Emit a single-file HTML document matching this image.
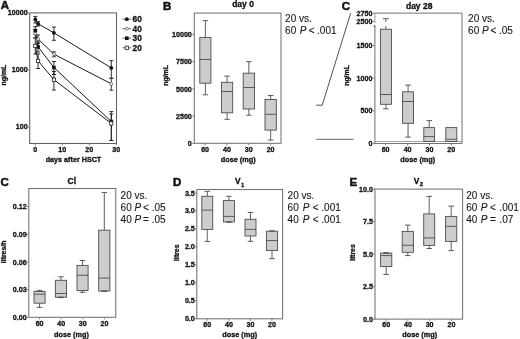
<!DOCTYPE html>
<html><head><meta charset="utf-8"><title>Figure</title>
<style>
html,body{margin:0;padding:0;background:#fff;}
body{width:520px;height:339px;overflow:hidden;}
svg{display:block;font-family:"Liberation Sans",sans-serif;}
</style></head><body>
<svg width="520" height="339" viewBox="0 0 520 339">
<rect width="520" height="339" fill="#fff"/>
<text x="0.8" y="9.2" font-size="11.5" text-anchor="start" font-weight="bold" fill="#111" stroke="#111" stroke-width="0.5" >A</text>
<rect x="29.7" y="12.9" width="86.8" height="130.6" fill="none" stroke="#606060" stroke-width="1.05"/>
<path d="M27.7 12.9H29.7" stroke="#727272" stroke-width="0.9"/>
<text x="27.6" y="14.8" font-size="7.1" text-anchor="end" font-weight="bold" fill="#111" stroke="#111" stroke-width="0.3" >10000</text>
<path d="M27.7 69.9H29.7" stroke="#727272" stroke-width="0.9"/>
<text x="27.6" y="71.80000000000001" font-size="7.1" text-anchor="end" font-weight="bold" fill="#111" stroke="#111" stroke-width="0.3" >1000</text>
<path d="M27.7 126.9H29.7" stroke="#727272" stroke-width="0.9"/>
<text x="27.6" y="128.8" font-size="7.1" text-anchor="end" font-weight="bold" fill="#111" stroke="#111" stroke-width="0.3" >100</text>
<path d="M35.3 143.4V145.4" stroke="#727272" stroke-width="0.9"/>
<text x="35.3" y="152.0" font-size="7.1" text-anchor="middle" font-weight="bold" fill="#111" stroke="#111" stroke-width="0.3" >0</text>
<path d="M62.3 143.4V145.4" stroke="#727272" stroke-width="0.9"/>
<text x="62.3" y="152.0" font-size="7.1" text-anchor="middle" font-weight="bold" fill="#111" stroke="#111" stroke-width="0.3" >10</text>
<path d="M89.3 143.4V145.4" stroke="#727272" stroke-width="0.9"/>
<text x="89.3" y="152.0" font-size="7.1" text-anchor="middle" font-weight="bold" fill="#111" stroke="#111" stroke-width="0.3" >20</text>
<path d="M116.3 143.4V145.4" stroke="#727272" stroke-width="0.9"/>
<text x="116.3" y="152.0" font-size="7.1" text-anchor="middle" font-weight="bold" fill="#111" stroke="#111" stroke-width="0.3" >30</text>
<text x="73.5" y="162.3" font-size="7.2" text-anchor="middle" font-weight="bold" fill="#111" stroke="#111" stroke-width="0.3" >days after HSCT</text>
<text transform="translate(6.2 75.1) rotate(-90)" font-size="6.9" text-anchor="middle" font-weight="bold" fill="#111" stroke="#111" stroke-width="0.3">ng/mL</text>
<polyline points="35.3,19.4 38.1,23.8 53.9,32.8 111.3,67.9" fill="none" stroke="#1a1a1a" stroke-width="1"/>
<path d="M35.3 16.4V23.0M33.3 16.4H37.3M33.3 23.0H37.3" stroke="#222" stroke-width="0.95" fill="none"/>
<path d="M38.1 21.7V26M36.1 21.7H40.1M36.1 26H40.1" stroke="#222" stroke-width="0.95" fill="none"/>
<path d="M53.9 27.1V40.3M51.9 27.1H55.9M51.9 40.3H55.9" stroke="#222" stroke-width="0.95" fill="none"/>
<path d="M111.3 60.6V78.3M109.3 60.6H113.3M109.3 78.3H113.3" stroke="#222" stroke-width="0.95" fill="none"/>
<polyline points="35.3,33.6 38.1,39 53.9,54.2 111.3,83.8" fill="none" stroke="#1a1a1a" stroke-width="1"/>
<path d="M35.3 29.5V38M33.3 29.5H37.3M33.3 38H37.3" stroke="#333" stroke-width="0.95" fill="none"/>
<path d="M38.1 35V43.5M36.1 35H40.1M36.1 43.5H40.1" stroke="#333" stroke-width="0.95" fill="none"/>
<path d="M53.9 51.8V56.8M51.9 51.8H55.9M51.9 56.8H55.9" stroke="#333" stroke-width="0.95" fill="none"/>
<path d="M111.3 78.3V90.2M109.3 78.3H113.3M109.3 90.2H113.3" stroke="#333" stroke-width="0.95" fill="none"/>
<polyline points="35.3,30.6 38.1,46.9 53.9,67.5 111.3,121.5" fill="none" stroke="#1a1a1a" stroke-width="1"/>
<path d="M35.3 26.6V34.5M33.3 26.6H37.3M33.3 34.5H37.3" stroke="#222" stroke-width="0.95" fill="none"/>
<path d="M38.1 42V52M36.1 42H40.1M36.1 52H40.1" stroke="#222" stroke-width="0.95" fill="none"/>
<path d="M53.9 61.5V74.5M51.9 61.5H55.9M51.9 74.5H55.9" stroke="#222" stroke-width="0.95" fill="none"/>
<path d="M111.3 111.6V140.5M109.3 111.6H113.3M109.3 140.5H113.3" stroke="#222" stroke-width="0.95" fill="none"/>
<polyline points="35.3,45.9 38.1,60.9 53.9,79.7 111.3,123.4" fill="none" stroke="#1a1a1a" stroke-width="1"/>
<path d="M35.3 38V54M33.3 38H37.3M33.3 54H37.3" stroke="#222" stroke-width="0.95" fill="none"/>
<path d="M38.1 54V68.5M36.1 54H40.1M36.1 68.5H40.1" stroke="#222" stroke-width="0.95" fill="none"/>
<path d="M53.9 71.5V90M51.9 71.5H55.9M51.9 90H55.9" stroke="#222" stroke-width="0.95" fill="none"/>
<path d="M111.3 114.0V140.5M109.3 114.0H113.3M109.3 140.5H113.3" stroke="#222" stroke-width="0.95" fill="none"/>
<circle cx="35.3" cy="19.4" r="1.9" fill="#111"/>
<circle cx="38.1" cy="23.8" r="1.9" fill="#111"/>
<circle cx="53.9" cy="32.8" r="1.9" fill="#111"/>
<circle cx="111.3" cy="67.9" r="1.9" fill="#111"/>
<circle cx="35.3" cy="33.6" r="1.5" fill="#eee" stroke="#555" stroke-width="0.7"/>
<circle cx="38.1" cy="39" r="1.5" fill="#eee" stroke="#555" stroke-width="0.7"/>
<circle cx="53.9" cy="54.2" r="1.5" fill="#eee" stroke="#555" stroke-width="0.7"/>
<circle cx="111.3" cy="83.8" r="1.5" fill="#eee" stroke="#555" stroke-width="0.7"/>
<rect x="33.5" y="28.8" width="3.6" height="3.6" fill="#111"/>
<rect x="36.300000000000004" y="45.1" width="3.6" height="3.6" fill="#111"/>
<rect x="52.1" y="65.7" width="3.6" height="3.6" fill="#111"/>
<rect x="109.5" y="119.7" width="3.6" height="3.6" fill="#111"/>
<rect x="33.699999999999996" y="44.199999999999996" width="3.2" height="3.4" fill="#fff" stroke="#222" stroke-width="0.8"/>
<rect x="36.5" y="59.199999999999996" width="3.2" height="3.4" fill="#fff" stroke="#222" stroke-width="0.8"/>
<rect x="52.3" y="78.0" width="3.2" height="3.4" fill="#fff" stroke="#222" stroke-width="0.8"/>
<rect x="109.7" y="121.7" width="3.2" height="3.4" fill="#fff" stroke="#222" stroke-width="0.8"/>
<path d="M122.5 19.2H131" stroke="#444" stroke-width="0.8"/>
<circle cx="126.8" cy="19.2" r="1.9" fill="#111"/>
<text x="132.6" y="22.2" font-size="8.3" text-anchor="start" font-weight="bold" fill="#111" stroke="#111" stroke-width="0.3" >60</text>
<path d="M122.5 28.7H131" stroke="#444" stroke-width="0.8"/>
<circle cx="126.8" cy="28.7" r="1.5" fill="#eee" stroke="#555" stroke-width="0.7"/>
<text x="132.6" y="31.7" font-size="8.3" text-anchor="start" font-weight="bold" fill="#111" stroke="#111" stroke-width="0.3" >40</text>
<path d="M122.5 38.2H131" stroke="#444" stroke-width="0.8"/>
<rect x="125.0" y="36.400000000000006" width="3.6" height="3.6" fill="#111"/>
<text x="132.6" y="41.2" font-size="8.3" text-anchor="start" font-weight="bold" fill="#111" stroke="#111" stroke-width="0.3" >30</text>
<path d="M122.5 47.8H131" stroke="#444" stroke-width="0.8"/>
<rect x="125.2" y="46.099999999999994" width="3.2" height="3.4" fill="#fff" stroke="#222" stroke-width="0.8"/>
<text x="132.6" y="50.8" font-size="8.3" text-anchor="start" font-weight="bold" fill="#111" stroke="#111" stroke-width="0.3" >20</text>
<text x="163.0" y="9.5" font-size="11.5" text-anchor="start" font-weight="bold" fill="#111" stroke="#111" stroke-width="0.5" >B</text>
<text x="243" y="6.9" font-size="8.5" text-anchor="middle" font-weight="bold" fill="#111" stroke="#111" stroke-width="0.3" >day 0</text>
<rect x="194.3" y="13.1" width="86.69999999999999" height="130.20000000000002" fill="none" stroke="#727272" stroke-width="1.05"/>
<path d="M192.3 34.6H194.3" stroke="#727272" stroke-width="0.9"/>
<text x="191.8" y="37.2" font-size="7.1" text-anchor="end" font-weight="bold" fill="#111" stroke="#111" stroke-width="0.3" >10000</text>
<path d="M192.3 61.8H194.3" stroke="#727272" stroke-width="0.9"/>
<text x="191.8" y="64.39999999999999" font-size="7.1" text-anchor="end" font-weight="bold" fill="#111" stroke="#111" stroke-width="0.3" >7500</text>
<path d="M192.3 89H194.3" stroke="#727272" stroke-width="0.9"/>
<text x="191.8" y="91.6" font-size="7.1" text-anchor="end" font-weight="bold" fill="#111" stroke="#111" stroke-width="0.3" >5000</text>
<path d="M192.3 116.2H194.3" stroke="#727272" stroke-width="0.9"/>
<text x="191.8" y="118.8" font-size="7.1" text-anchor="end" font-weight="bold" fill="#111" stroke="#111" stroke-width="0.3" >2500</text>
<path d="M192.3 143.4H194.3" stroke="#727272" stroke-width="0.9"/>
<text x="191.8" y="146.0" font-size="7.1" text-anchor="end" font-weight="bold" fill="#111" stroke="#111" stroke-width="0.3" >0</text>
<path d="M205.1 143.4V145.4" stroke="#727272" stroke-width="0.9"/>
<text x="205.1" y="152.0" font-size="7.1" text-anchor="middle" font-weight="bold" fill="#111" stroke="#111" stroke-width="0.3" >60</text>
<path d="M226.9 143.4V145.4" stroke="#727272" stroke-width="0.9"/>
<text x="226.9" y="152.0" font-size="7.1" text-anchor="middle" font-weight="bold" fill="#111" stroke="#111" stroke-width="0.3" >40</text>
<path d="M248.7 143.4V145.4" stroke="#727272" stroke-width="0.9"/>
<text x="248.7" y="152.0" font-size="7.1" text-anchor="middle" font-weight="bold" fill="#111" stroke="#111" stroke-width="0.3" >30</text>
<path d="M270.6 143.4V145.4" stroke="#727272" stroke-width="0.9"/>
<text x="270.6" y="152.0" font-size="7.1" text-anchor="middle" font-weight="bold" fill="#111" stroke="#111" stroke-width="0.3" >20</text>
<text x="238.2" y="162.3" font-size="7.3" text-anchor="middle" font-weight="bold" fill="#111" stroke="#111" stroke-width="0.3" >dose (mg)</text>
<text transform="translate(167.8 75.4) rotate(-90)" font-size="6.9" text-anchor="middle" font-weight="bold" fill="#111" stroke="#111" stroke-width="0.3">ng/mL</text>
<g stroke="#4c4c4c" stroke-width="0.9" fill="none">
<path d="M205.35000000000002 37.4V20.6M202.55 20.6H208.15000000000003"/>
<path d="M205.35000000000002 83.2V94.8M202.55 94.8H208.15000000000003"/>
<rect x="199.8" y="37.4" width="11.099999999999994" height="45.800000000000004" fill="#cdcdcd"/>
<path d="M199.8 59.5H210.9"/>
</g>
<g stroke="#4c4c4c" stroke-width="0.9" fill="none">
<path d="M227.1 82.3V76.1M224.29999999999998 76.1H229.9"/>
<path d="M227.1 112.8V119.3M224.29999999999998 119.3H229.9"/>
<rect x="221.5" y="82.3" width="11.199999999999989" height="30.5" fill="#cdcdcd"/>
<path d="M221.5 91.5H232.7"/>
</g>
<g stroke="#4c4c4c" stroke-width="0.9" fill="none">
<path d="M248.85 73.2V61.7M246.04999999999998 61.7H251.65"/>
<path d="M248.85 109.0V115.2M246.04999999999998 115.2H251.65"/>
<rect x="243.2" y="73.2" width="11.300000000000011" height="35.8" fill="#cdcdcd"/>
<path d="M243.2 87.5H254.5"/>
</g>
<g stroke="#4c4c4c" stroke-width="0.9" fill="none">
<path d="M270.65 99.5V95.5M267.84999999999997 95.5H273.45"/>
<path d="M270.65 130.1V140.1M267.84999999999997 140.1H273.45"/>
<rect x="265" y="99.5" width="11.300000000000011" height="30.599999999999994" fill="#cdcdcd"/>
<path d="M265 114.3H276.3"/>
</g>
<text x="285.1" y="21.6" font-size="10" fill="#1a1a1a" stroke="#1a1a1a" stroke-width="0.12">20 vs.</text>
<text x="285.1" y="33.6" font-size="10" fill="#1a1a1a" stroke="#1a1a1a" stroke-width="0.12">60 <tspan font-style="italic" dx="0.7">P</tspan><tspan dx="-0.3"> &lt;</tspan><tspan dx="-0.4"> .001</tspan></text>
<path d="M316.2 105.2H322.2L350.7 13.2" fill="none" stroke="#333" stroke-width="0.85"/>
<path d="M316.2 139.3H353.5" fill="none" stroke="#444" stroke-width="0.85"/>
<text x="341.7" y="9.7" font-size="11.5" text-anchor="start" font-weight="bold" fill="#111" stroke="#111" stroke-width="0.5" >C</text>
<text x="419.2" y="8.6" font-size="8.5" text-anchor="middle" font-weight="bold" fill="#111" stroke="#111" stroke-width="0.3" >day 28</text>
<path d="M374.9 13.1H462V143.5H374.9V26" fill="none" stroke="#727272" stroke-width="1"/>
<path d="M374.9 14.2V22.6" fill="none" stroke="#555" stroke-width="1" stroke-dasharray="0.9 0.7"/>
<path d="M373.6 26H375.4" fill="none" stroke="#333" stroke-width="1"/>
<path d="M374.9 141.5H462" fill="none" stroke="#888" stroke-width="0.8"/>
<path d="M372.9 13.1H374.9" stroke="#727272" stroke-width="0.9"/>
<text x="372.4" y="15.7" font-size="7.1" text-anchor="end" font-weight="bold" fill="#111" stroke="#111" stroke-width="0.3" >2750</text>
<path d="M372.9 21.6H374.9" stroke="#727272" stroke-width="0.9"/>
<text x="372.4" y="24.200000000000003" font-size="7.1" text-anchor="end" font-weight="bold" fill="#111" stroke="#111" stroke-width="0.3" >2500</text>
<path d="M372.9 45.5H374.9" stroke="#727272" stroke-width="0.9"/>
<text x="372.4" y="48.1" font-size="7.1" text-anchor="end" font-weight="bold" fill="#111" stroke="#111" stroke-width="0.3" >1500</text>
<path d="M372.9 78.1H374.9" stroke="#727272" stroke-width="0.9"/>
<text x="372.4" y="80.69999999999999" font-size="7.1" text-anchor="end" font-weight="bold" fill="#111" stroke="#111" stroke-width="0.3" >1000</text>
<path d="M372.9 110.7H374.9" stroke="#727272" stroke-width="0.9"/>
<text x="372.4" y="113.3" font-size="7.1" text-anchor="end" font-weight="bold" fill="#111" stroke="#111" stroke-width="0.3" >500</text>
<path d="M372.9 143.3H374.9" stroke="#727272" stroke-width="0.9"/>
<text x="372.4" y="145.9" font-size="7.1" text-anchor="end" font-weight="bold" fill="#111" stroke="#111" stroke-width="0.3" >0</text>
<path d="M385.6 143.5V145.5" stroke="#727272" stroke-width="0.9"/>
<text x="385.6" y="152.0" font-size="7.1" text-anchor="middle" font-weight="bold" fill="#111" stroke="#111" stroke-width="0.3" >60</text>
<path d="M407.6 143.5V145.5" stroke="#727272" stroke-width="0.9"/>
<text x="407.6" y="152.0" font-size="7.1" text-anchor="middle" font-weight="bold" fill="#111" stroke="#111" stroke-width="0.3" >40</text>
<path d="M429.5 143.5V145.5" stroke="#727272" stroke-width="0.9"/>
<text x="429.5" y="152.0" font-size="7.1" text-anchor="middle" font-weight="bold" fill="#111" stroke="#111" stroke-width="0.3" >30</text>
<path d="M451.3 143.5V145.5" stroke="#727272" stroke-width="0.9"/>
<text x="451.3" y="152.0" font-size="7.1" text-anchor="middle" font-weight="bold" fill="#111" stroke="#111" stroke-width="0.3" >20</text>
<text x="417.8" y="162.3" font-size="7.3" text-anchor="middle" font-weight="bold" fill="#111" stroke="#111" stroke-width="0.3" >dose (mg)</text>
<text transform="translate(348.5 75.5) rotate(-90)" font-size="6.9" text-anchor="middle" font-weight="bold" fill="#111" stroke="#111" stroke-width="0.3">ng/mL</text>
<path d="M385.8 29.2V26M385.8 21.8V18.7M382.9 18.7H388.7" stroke="#4c4c4c" stroke-width="0.9" fill="none"/>
<g stroke="#4c4c4c" stroke-width="0.9" fill="none">
<path d="M385.9 104.3V108.8M383.09999999999997 108.8H388.7"/>
<rect x="380.4" y="29.2" width="11.0" height="75.1" fill="#cdcdcd"/>
<path d="M380.4 94.5H391.4"/>
</g>
<g stroke="#4c4c4c" stroke-width="0.9" fill="none">
<path d="M408.05 91.8V85.1M405.25 85.1H410.85"/>
<path d="M408.05 123.3V137.1M405.25 137.1H410.85"/>
<rect x="402.6" y="91.8" width="10.899999999999977" height="31.5" fill="#cdcdcd"/>
<path d="M402.6 101.5H413.5"/>
</g>
<g stroke="#4c4c4c" stroke-width="0.9" fill="none">
<path d="M429.20000000000005 127.6V120.6M426.40000000000003 120.6H432.00000000000006"/>
<rect x="423.8" y="127.6" width="10.800000000000011" height="13.900000000000006" fill="#cdcdcd"/>
<path d="M423.8 136.6H434.6"/>
</g>
<g stroke="#4c4c4c" stroke-width="0.9" fill="none">
<rect x="445.8" y="127.6" width="11.0" height="13.900000000000006" fill="#cdcdcd"/>
<path d="M445.8 139.3H456.8"/>
</g>
<text x="468.1" y="21.6" font-size="10" fill="#1a1a1a" stroke="#1a1a1a" stroke-width="0.12">20 vs.</text>
<text x="468.1" y="33.6" font-size="10" fill="#1a1a1a" stroke="#1a1a1a" stroke-width="0.12">60 <tspan font-style="italic" dx="0">P</tspan><tspan dx="-0.9"> &lt;</tspan><tspan dx="-0.2"> .05</tspan></text>
<text x="0.6" y="186.1" font-size="11.5" text-anchor="start" font-weight="bold" fill="#111" stroke="#111" stroke-width="0.5" >C</text>
<text x="71.9" y="184.3" font-size="8.6" text-anchor="middle" font-weight="bold" fill="#111" stroke="#111" stroke-width="0.3" >Cl</text>
<rect x="28.8" y="188.5" width="87.0" height="128.8" fill="none" stroke="#727272" stroke-width="1.05"/>
<path d="M26.8 206.6H28.8" stroke="#727272" stroke-width="0.9"/>
<text x="26.6" y="209.2" font-size="7.1" text-anchor="end" font-weight="bold" fill="#111" stroke="#111" stroke-width="0.3" >0.12</text>
<path d="M26.8 234.3H28.8" stroke="#727272" stroke-width="0.9"/>
<text x="26.6" y="236.9" font-size="7.1" text-anchor="end" font-weight="bold" fill="#111" stroke="#111" stroke-width="0.3" >0.09</text>
<path d="M26.8 262H28.8" stroke="#727272" stroke-width="0.9"/>
<text x="26.6" y="264.6" font-size="7.1" text-anchor="end" font-weight="bold" fill="#111" stroke="#111" stroke-width="0.3" >0.06</text>
<path d="M26.8 289.6H28.8" stroke="#727272" stroke-width="0.9"/>
<text x="26.6" y="292.20000000000005" font-size="7.1" text-anchor="end" font-weight="bold" fill="#111" stroke="#111" stroke-width="0.3" >0.03</text>
<path d="M26.8 317.3H28.8" stroke="#727272" stroke-width="0.9"/>
<text x="26.6" y="319.90000000000003" font-size="7.1" text-anchor="end" font-weight="bold" fill="#111" stroke="#111" stroke-width="0.3" >0.00</text>
<path d="M39.6 317.3V319.3" stroke="#727272" stroke-width="0.9"/>
<text x="39.6" y="325.7" font-size="7.1" text-anchor="middle" font-weight="bold" fill="#111" stroke="#111" stroke-width="0.3" >60</text>
<path d="M61.2 317.3V319.3" stroke="#727272" stroke-width="0.9"/>
<text x="61.2" y="325.7" font-size="7.1" text-anchor="middle" font-weight="bold" fill="#111" stroke="#111" stroke-width="0.3" >40</text>
<path d="M82.8 317.3V319.3" stroke="#727272" stroke-width="0.9"/>
<text x="82.8" y="325.7" font-size="7.1" text-anchor="middle" font-weight="bold" fill="#111" stroke="#111" stroke-width="0.3" >30</text>
<path d="M104.4 317.3V319.3" stroke="#727272" stroke-width="0.9"/>
<text x="104.4" y="325.7" font-size="7.1" text-anchor="middle" font-weight="bold" fill="#111" stroke="#111" stroke-width="0.3" >20</text>
<text x="71.5" y="336.6" font-size="7.3" text-anchor="middle" font-weight="bold" fill="#111" stroke="#111" stroke-width="0.3" >dose (mg)</text>
<text transform="translate(6.4 251.9) rotate(-90)" font-size="6.9" text-anchor="middle" font-weight="bold" fill="#111" stroke="#111" stroke-width="0.3">litres/h</text>
<g stroke="#4c4c4c" stroke-width="0.9" fill="none">
<path d="M39.55 291.4V290.4M36.75 290.4H42.349999999999994"/>
<path d="M39.55 303.2V307.4M36.75 307.4H42.349999999999994"/>
<rect x="34" y="291.4" width="11.100000000000001" height="11.800000000000011" fill="#cdcdcd"/>
<path d="M34 294.2H45.1"/>
</g>
<g stroke="#4c4c4c" stroke-width="0.9" fill="none">
<path d="M60.95 280.3V276.8M58.150000000000006 276.8H63.75"/>
<rect x="55.4" y="280.3" width="11.100000000000001" height="16.899999999999977" fill="#cdcdcd"/>
<path d="M55.4 293.5H66.5"/>
<path d="M58.150000000000006 297.4H63.75" stroke-width="1.3"/>
</g>
<g stroke="#4c4c4c" stroke-width="0.9" fill="none">
<path d="M82.55 265.4V260.5M79.75 260.5H85.35"/>
<path d="M82.55 290.5V292.3M79.75 292.3H85.35"/>
<rect x="77" y="265.4" width="11.099999999999994" height="25.100000000000023" fill="#cdcdcd"/>
<path d="M77 275.3H88.1"/>
</g>
<g stroke="#4c4c4c" stroke-width="0.9" fill="none">
<path d="M104.30000000000001 230.2V192.6M101.50000000000001 192.6H107.10000000000001"/>
<rect x="98.7" y="230.2" width="11.200000000000003" height="60.80000000000001" fill="#cdcdcd"/>
<path d="M98.7 278.1H109.9"/>
<path d="M101.50000000000001 291.2H107.10000000000001" stroke-width="1.3"/>
</g>
<text x="120.6" y="198.6" font-size="10" fill="#1a1a1a" stroke="#1a1a1a" stroke-width="0.12">20 vs.</text>
<text x="120.6" y="210.6" font-size="10" fill="#1a1a1a" stroke="#1a1a1a" stroke-width="0.12">60 <tspan font-style="italic" dx="0">P</tspan><tspan dx="-0.9"> &lt;</tspan><tspan dx="0"> .05</tspan></text>
<text x="120.6" y="222.6" font-size="10" fill="#1a1a1a" stroke="#1a1a1a" stroke-width="0.12">40 <tspan font-style="italic" dx="0">P</tspan><tspan dx="-0.9"> =</tspan><tspan dx="0"> .05</tspan></text>
<text x="172.9" y="186.1" font-size="11.5" text-anchor="start" font-weight="bold" fill="#111" stroke="#111" stroke-width="0.5" >D</text>
<text x="235" y="184.3" font-size="8.4" font-weight="bold" fill="#111" stroke="#111" stroke-width="0.3">V<tspan font-size="5.8" dx="0.4" dy="2.3">1</tspan></text>
<rect x="196.8" y="189.5" width="85.80000000000001" height="129.3" fill="none" stroke="#727272" stroke-width="1.05"/>
<path d="M194.8 318.7H196.8" stroke="#727272" stroke-width="0.9"/>
<text x="194.8" y="321.3" font-size="7.1" text-anchor="end" font-weight="bold" fill="#111" stroke="#111" stroke-width="0.3" >0.0</text>
<path d="M194.8 300.73H196.8" stroke="#727272" stroke-width="0.9"/>
<text x="194.8" y="303.33000000000004" font-size="7.1" text-anchor="end" font-weight="bold" fill="#111" stroke="#111" stroke-width="0.3" >0.5</text>
<path d="M194.8 282.76H196.8" stroke="#727272" stroke-width="0.9"/>
<text x="194.8" y="285.36" font-size="7.1" text-anchor="end" font-weight="bold" fill="#111" stroke="#111" stroke-width="0.3" >1.0</text>
<path d="M194.8 264.78999999999996H196.8" stroke="#727272" stroke-width="0.9"/>
<text x="194.8" y="267.39" font-size="7.1" text-anchor="end" font-weight="bold" fill="#111" stroke="#111" stroke-width="0.3" >1.5</text>
<path d="M194.8 246.82H196.8" stroke="#727272" stroke-width="0.9"/>
<text x="194.8" y="249.42" font-size="7.1" text-anchor="end" font-weight="bold" fill="#111" stroke="#111" stroke-width="0.3" >2.0</text>
<path d="M194.8 228.85H196.8" stroke="#727272" stroke-width="0.9"/>
<text x="194.8" y="231.45" font-size="7.1" text-anchor="end" font-weight="bold" fill="#111" stroke="#111" stroke-width="0.3" >2.5</text>
<path d="M194.8 210.88H196.8" stroke="#727272" stroke-width="0.9"/>
<text x="194.8" y="213.48" font-size="7.1" text-anchor="end" font-weight="bold" fill="#111" stroke="#111" stroke-width="0.3" >3.0</text>
<path d="M194.8 192.91H196.8" stroke="#727272" stroke-width="0.9"/>
<text x="194.8" y="195.51" font-size="7.1" text-anchor="end" font-weight="bold" fill="#111" stroke="#111" stroke-width="0.3" >3.5</text>
<path d="M207.2 318.8V320.8" stroke="#727272" stroke-width="0.9"/>
<text x="207.2" y="326.9" font-size="7.1" text-anchor="middle" font-weight="bold" fill="#111" stroke="#111" stroke-width="0.3" >60</text>
<path d="M228.9 318.8V320.8" stroke="#727272" stroke-width="0.9"/>
<text x="228.9" y="326.9" font-size="7.1" text-anchor="middle" font-weight="bold" fill="#111" stroke="#111" stroke-width="0.3" >40</text>
<path d="M250.5 318.8V320.8" stroke="#727272" stroke-width="0.9"/>
<text x="250.5" y="326.9" font-size="7.1" text-anchor="middle" font-weight="bold" fill="#111" stroke="#111" stroke-width="0.3" >30</text>
<path d="M272 318.8V320.8" stroke="#727272" stroke-width="0.9"/>
<text x="272" y="326.9" font-size="7.1" text-anchor="middle" font-weight="bold" fill="#111" stroke="#111" stroke-width="0.3" >20</text>
<text x="239.7" y="337" font-size="7.3" text-anchor="middle" font-weight="bold" fill="#111" stroke="#111" stroke-width="0.3" >dose (mg)</text>
<text transform="translate(178.8 252.7) rotate(-90)" font-size="6.9" text-anchor="middle" font-weight="bold" fill="#111" stroke="#111" stroke-width="0.3">litres</text>
<g stroke="#4c4c4c" stroke-width="0.9" fill="none">
<path d="M207.25 196.3V191.3M204.45 191.3H210.05"/>
<path d="M207.25 229.4V241.4M204.45 241.4H210.05"/>
<rect x="201.8" y="196.3" width="10.899999999999977" height="33.099999999999994" fill="#cdcdcd"/>
<path d="M201.8 210.1H212.7"/>
</g>
<g stroke="#4c4c4c" stroke-width="0.9" fill="none">
<path d="M228.9 200.6V196.3M226.1 196.3H231.70000000000002"/>
<rect x="223.4" y="200.6" width="11.0" height="21.30000000000001" fill="#cdcdcd"/>
<path d="M223.4 216.4H234.4"/>
<path d="M226.1 222.1H231.70000000000002" stroke-width="1.3"/>
</g>
<g stroke="#4c4c4c" stroke-width="0.9" fill="none">
<path d="M250.5 219.3V212.5M247.7 212.5H253.3"/>
<path d="M250.5 236V241.3M247.7 241.3H253.3"/>
<rect x="245" y="219.3" width="11" height="16.69999999999999" fill="#cdcdcd"/>
<path d="M245 229.4H256"/>
</g>
<g stroke="#4c4c4c" stroke-width="0.9" fill="none">
<path d="M272.0 250.5V258.7M269.2 258.7H274.8"/>
<rect x="266.4" y="231.2" width="11.200000000000045" height="19.30000000000001" fill="#cdcdcd"/>
<path d="M266.4 240.6H277.6"/>
<path d="M269.2 231.0H274.8" stroke-width="1.3"/>
</g>
<text x="287.6" y="198.6" font-size="10" fill="#1a1a1a" stroke="#1a1a1a" stroke-width="0.12">20 vs.</text>
<text x="287.6" y="210.6" font-size="10" fill="#1a1a1a" stroke="#1a1a1a" stroke-width="0.12">60 <tspan font-style="italic" dx="1.3">P</tspan><tspan dx="0.45"> &lt;</tspan><tspan dx="0"> .001</tspan></text>
<text x="287.6" y="222.6" font-size="10" fill="#1a1a1a" stroke="#1a1a1a" stroke-width="0.12">40 <tspan font-style="italic" dx="1.3">P</tspan><tspan dx="0.45"> &lt;</tspan><tspan dx="0"> .001</tspan></text>
<text x="349.5" y="186.1" font-size="11.5" text-anchor="start" font-weight="bold" fill="#111" stroke="#111" stroke-width="0.5" >E</text>
<text x="413.8" y="183.6" font-size="8.4" font-weight="bold" fill="#111" stroke="#111" stroke-width="0.3">V<tspan font-size="5.8" dx="0.4" dy="2.0">2</tspan></text>
<rect x="375.0" y="189.1" width="87.60000000000002" height="130.00000000000003" fill="none" stroke="#727272" stroke-width="1.05"/>
<path d="M373.0 319.2H375.0" stroke="#727272" stroke-width="0.9"/>
<text x="372.9" y="321.8" font-size="7.1" text-anchor="end" font-weight="bold" fill="#111" stroke="#111" stroke-width="0.3" >0.0</text>
<path d="M373.0 286.65H375.0" stroke="#727272" stroke-width="0.9"/>
<text x="372.9" y="289.25" font-size="7.1" text-anchor="end" font-weight="bold" fill="#111" stroke="#111" stroke-width="0.3" >2.5</text>
<path d="M373.0 254.1H375.0" stroke="#727272" stroke-width="0.9"/>
<text x="372.9" y="256.7" font-size="7.1" text-anchor="end" font-weight="bold" fill="#111" stroke="#111" stroke-width="0.3" >5.0</text>
<path d="M373.0 221.55H375.0" stroke="#727272" stroke-width="0.9"/>
<text x="372.9" y="224.15" font-size="7.1" text-anchor="end" font-weight="bold" fill="#111" stroke="#111" stroke-width="0.3" >7.5</text>
<path d="M373.0 189.0H375.0" stroke="#727272" stroke-width="0.9"/>
<text x="372.9" y="191.6" font-size="7.1" text-anchor="end" font-weight="bold" fill="#111" stroke="#111" stroke-width="0.3" >10.0</text>
<path d="M386.2 319.1V321.1" stroke="#727272" stroke-width="0.9"/>
<text x="386.2" y="327.4" font-size="7.1" text-anchor="middle" font-weight="bold" fill="#111" stroke="#111" stroke-width="0.3" >60</text>
<path d="M407.9 319.1V321.1" stroke="#727272" stroke-width="0.9"/>
<text x="407.9" y="327.4" font-size="7.1" text-anchor="middle" font-weight="bold" fill="#111" stroke="#111" stroke-width="0.3" >40</text>
<path d="M429.6 319.1V321.1" stroke="#727272" stroke-width="0.9"/>
<text x="429.6" y="327.4" font-size="7.1" text-anchor="middle" font-weight="bold" fill="#111" stroke="#111" stroke-width="0.3" >30</text>
<path d="M451.5 319.1V321.1" stroke="#727272" stroke-width="0.9"/>
<text x="451.5" y="327.4" font-size="7.1" text-anchor="middle" font-weight="bold" fill="#111" stroke="#111" stroke-width="0.3" >20</text>
<text x="419.7" y="337" font-size="7.3" text-anchor="middle" font-weight="bold" fill="#111" stroke="#111" stroke-width="0.3" >dose (mg)</text>
<text transform="translate(354.5 252.5) rotate(-90)" font-size="6.9" text-anchor="middle" font-weight="bold" fill="#111" stroke="#111" stroke-width="0.3">litres</text>
<g stroke="#4c4c4c" stroke-width="0.9" fill="none">
<path d="M386.20000000000005 266.6V274.4M383.40000000000003 274.4H389.00000000000006"/>
<rect x="380.6" y="253.1" width="11.199999999999989" height="13.500000000000028" fill="#cdcdcd"/>
<path d="M380.6 255.6H391.8"/>
<path d="M383.40000000000003 252.9H389.00000000000006" stroke-width="1.3"/>
</g>
<g stroke="#4c4c4c" stroke-width="0.9" fill="none">
<path d="M407.79999999999995 231.4V225.1M404.99999999999994 225.1H410.59999999999997"/>
<path d="M407.79999999999995 252.3V255.6M404.99999999999994 255.6H410.59999999999997"/>
<rect x="402.2" y="231.4" width="11.199999999999989" height="20.900000000000006" fill="#cdcdcd"/>
<path d="M402.2 245.3H413.4"/>
</g>
<g stroke="#4c4c4c" stroke-width="0.9" fill="none">
<path d="M429.2 213.9V196.4M426.4 196.4H432.0"/>
<path d="M429.2 245.4V248.5M426.4 248.5H432.0"/>
<rect x="423.7" y="213.9" width="11.0" height="31.5" fill="#cdcdcd"/>
<path d="M423.7 237.9H434.7"/>
</g>
<g stroke="#4c4c4c" stroke-width="0.9" fill="none">
<path d="M451.20000000000005 216.4V206.1M448.40000000000003 206.1H454.00000000000006"/>
<path d="M451.20000000000005 241.4V250.6M448.40000000000003 250.6H454.00000000000006"/>
<rect x="445.6" y="216.4" width="11.199999999999989" height="25.0" fill="#cdcdcd"/>
<path d="M445.6 226.4H456.8"/>
</g>
<text x="466.3" y="198.6" font-size="10" fill="#1a1a1a" stroke="#1a1a1a" stroke-width="0.12">20 vs.</text>
<text x="466.3" y="210.6" font-size="10" fill="#1a1a1a" stroke="#1a1a1a" stroke-width="0.12">60 <tspan font-style="italic" dx="0.6">P</tspan><tspan dx="-0.2"> &lt;</tspan><tspan dx="0.7"> .001</tspan></text>
<text x="466.3" y="222.6" font-size="10" fill="#1a1a1a" stroke="#1a1a1a" stroke-width="0.12">40 <tspan font-style="italic" dx="0.6">P</tspan><tspan dx="-0.2"> =</tspan><tspan dx="0.7"> .07</tspan></text>
</svg>
</body></html>
